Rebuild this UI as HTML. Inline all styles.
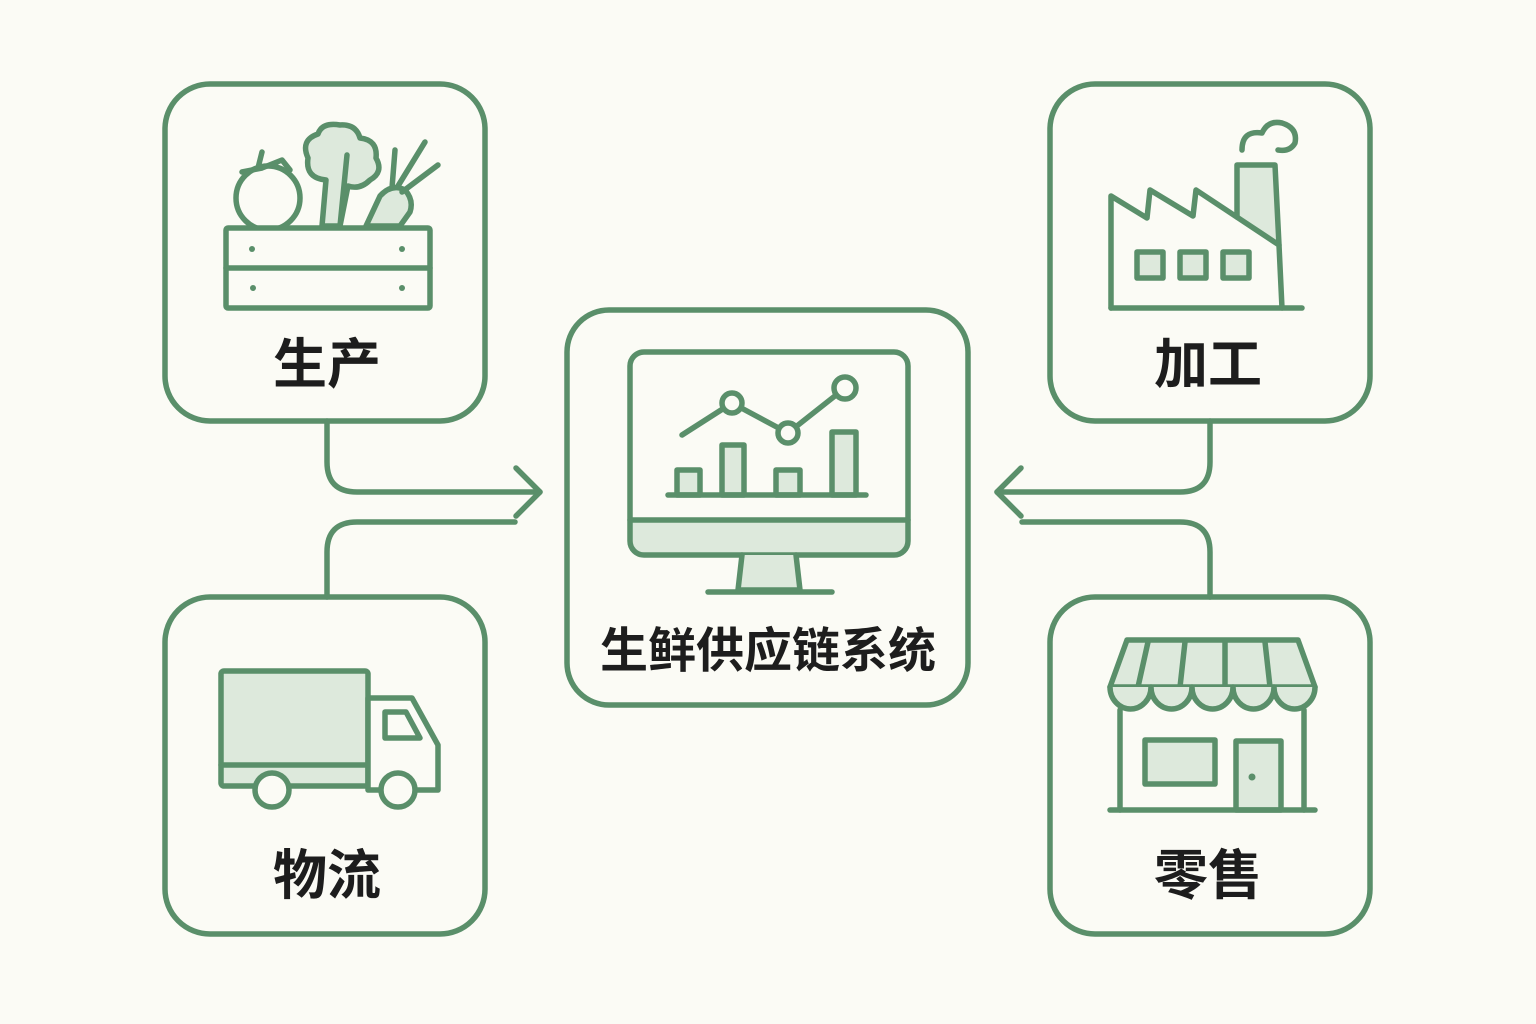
<!DOCTYPE html>
<html><head><meta charset="utf-8"><style>
html,body{margin:0;padding:0;background:#fbfbf5;}
svg{display:block}
text{font-family:"Liberation Sans","Noto Sans CJK SC",sans-serif;font-weight:bold;fill:#1d1d1d;text-anchor:middle}
</style></head><body>
<svg width="1536" height="1024" viewBox="0 0 1536 1024">
<rect width="1536" height="1024" fill="#fbfbf5"/>
<g fill="none" stroke="#5a8f6a" stroke-width="5.5" stroke-linecap="round" stroke-linejoin="round">
<!-- boxes -->
<rect x="165" y="84" width="320" height="337" rx="45"/>
<rect x="1050" y="84" width="320" height="337" rx="45"/>
<rect x="165" y="597" width="320" height="337" rx="45"/>
<rect x="1050" y="597" width="320" height="337" rx="45"/>
<rect x="567" y="310" width="401" height="395" rx="42"/>
<!-- connectors -->
<path d="M327 421 V462 Q327 492 357 492 H540"/>
<path d="M516 468 L540 492 L516 516"/>
<path d="M515 522 H357 Q327 522 327 552 V597"/>
<path d="M1210 421 V462 Q1210 492 1180 492 H997"/>
<path d="M1021 468 L997 492 L1021 516"/>
<path d="M1022 522 H1180 Q1210 522 1210 552 V597"/>
<!-- monitor -->
<path d="M632 520 H906 V540 Q906 555 891 555 H645 Q632 555 632 540 Z" fill="#dde9dc" stroke="none"/>
<rect x="630" y="352" width="278" height="203" rx="14"/>
<line x1="630" y1="520" x2="908" y2="520"/>
<path d="M742 555 L738 590 H800 L796 555" fill="#dde9dc"/>
<line x1="708" y1="592" x2="832" y2="592"/>
<rect x="677" y="470" width="23" height="25" fill="#dde9dc"/>
<rect x="722" y="445" width="22" height="50" fill="#dde9dc"/>
<rect x="776" y="470" width="24" height="25" fill="#dde9dc"/>
<rect x="832" y="432" width="24" height="63" fill="#dde9dc"/>
<line x1="668" y1="495" x2="866" y2="495"/>
<path d="M682 435 L732 403 L788 433 L845 388"/>
<circle cx="732" cy="403" r="10" fill="#fbfbf5"/>
<circle cx="788" cy="433" r="10" fill="#fbfbf5"/>
<circle cx="845" cy="388" r="11" fill="#fbfbf5"/>
<!-- vegetables -->
<path d="M322 226 L326 180 Q305 178 308 158 Q300 140 318 134 Q322 122 340 125 Q356 124 360 138 Q378 140 376 158 Q384 172 370 180 Q360 190 348 186 L340 226 Z" fill="#dde9dc"/>
<line x1="340" y1="226" x2="347" y2="155"/>
<path d="M366 226 L380 196 Q392 183 405 190 Q414 200 410 212 L400 226 Z" fill="#dde9dc"/>
<path d="M392 188 L395 150 M398 186 L425 142 M402 192 L438 165"/>
<circle cx="268" cy="198" r="32" fill="#fbfbf5"/>
<path d="M258 168 L262 152 M242 172 L262 168 L282 160 L290 170"/>
<rect x="226" y="228" width="204" height="80" rx="2" fill="#fbfbf5"/>
<line x1="226" y1="268" x2="430" y2="268"/>
<!-- factory -->
<path d="M1237 217 L1237 165 L1275 165 L1279 245 Z" fill="#dde9dc" stroke="none"/>
<path d="M1237 217 L1237 165 L1275 165 L1279 245"/>
<path d="M1242 150 Q1242 130 1262 133 Q1268 120 1282 123 Q1298 128 1295 143 Q1290 152 1278 150"/>
<path d="M1111 308 V196 L1147 218 L1150 190 L1193 216 L1196 190 L1279 245 L1282 308"/>
<line x1="1111" y1="308" x2="1302" y2="308"/>
<rect x="1137" y="252" width="26" height="26" fill="#dde9dc"/>
<rect x="1180" y="252" width="26" height="26" fill="#dde9dc"/>
<rect x="1223" y="252" width="26" height="26" fill="#dde9dc"/>
<!-- truck -->
<rect x="221" y="671" width="147" height="115" rx="3" fill="#dde9dc"/>
<line x1="221" y1="765" x2="368" y2="765"/>
<path d="M368 698 H412 L438 745 V790 H368 Z" fill="#fbfbf5"/>
<path d="M385 712 H406 L420 738 H385 Z"/>
<circle cx="272" cy="790" r="17" fill="#fbfbf5"/>
<circle cx="398" cy="790" r="17" fill="#fbfbf5"/>
<!-- store -->
<path d="M1127 640 H1298 L1315 687 H1110 Z" fill="#dde9dc"/>
<path d="M1148 642 L1138 687 M1185 642 L1180 687 M1225 642 L1225 687 M1265 642 L1270 687"/>
<path d="M1110 687 A20.5 22 0 0 0 1151 687 A20.5 22 0 0 0 1192 687 A20.5 22 0 0 0 1233 687 A20.5 22 0 0 0 1274 687 A20.5 22 0 0 0 1315 687" fill="#dde9dc"/>
<path d="M1120 710 V810 M1304 710 V810"/>
<rect x="1145" y="740" width="70" height="44" fill="#dde9dc"/>
<rect x="1236" y="741" width="45" height="69" fill="#dde9dc"/>
<line x1="1110" y1="810" x2="1315" y2="810"/>
</g>
<g fill="#5a8f6a">
<circle cx="252" cy="249" r="3"/><circle cx="402" cy="249" r="3"/>
<circle cx="253" cy="288" r="3"/><circle cx="402" cy="288" r="3"/>
<circle cx="1252" cy="777" r="3.5"/>
</g>
<text x="327" y="383" font-size="54">生产</text>
<text x="1208" y="383" font-size="54">加工</text>
<text x="327" y="894" font-size="54">物流</text>
<text x="1208" y="894" font-size="54">零售</text>
<text x="768" y="667" font-size="48">生鲜供应链系统</text>
</svg>
</body></html>
